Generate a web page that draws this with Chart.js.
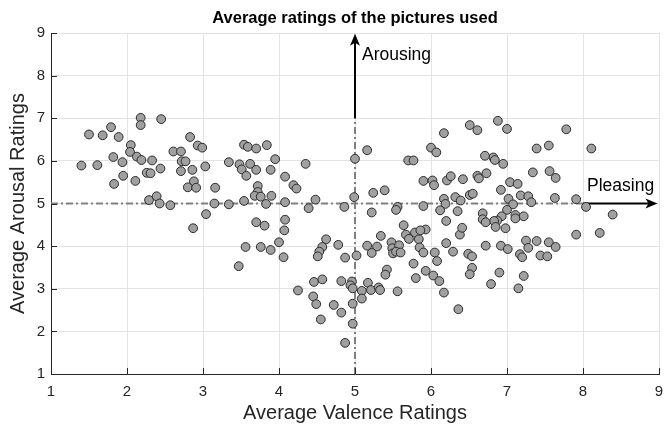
<!DOCTYPE html>
<html><head><meta charset="utf-8">
<script src="https://cdn.jsdelivr.net/npm/chart.js@4.4.0/dist/chart.umd.min.js"></script>
<style>html,body{margin:0;padding:0;background:#fff;overflow:hidden}</style>
</head><body>
<canvas id="c" width="668" height="429"></canvas>
<script>
const valence = [
1.40,1.50,1.61,1.68,1.79,1.82,1.89,1.94,1.83,1.95,2.05,2.04,2.11,2.13,2.18,2.18,2.19,2.33,2.26,2.31,2.29,2.39,2.44,2.43,2.45,2.57,2.61,2.71,2.72,2.77,2.71,2.83,2.86,2.88,2.80,2.91,2.87,2.93,
2.99,3.03,3.16,3.15,3.04,3.34,3.34,3.48,3.54,3.59,3.70,3.84,3.51,3.57,3.62,3.70,3.89,3.95,3.72,3.72,3.68,3.76,3.90,3.54,3.83,4.08,4.19,4.23,4.35,4.08,4.48,4.39,4.86,4.08,4.07,3.70,3.81,3.56,3.76,3.89,4.00,4.06,4.62,4.57,4.53,4.51,4.78,4.87,
3.47,5.02,4.25,4.46,4.57,4.45,4.49,4.55,4.72,4.82,4.96,4.94,4.97,4.82,4.97,4.97,4.87,
5.34,5.16,5.29,5.22,5.48,5.49,5.58,5.50,5.54,5.60,5.67,5.71,5.79,5.84,5.85,5.90,5.93,5.86,5.77,5.42,5.40,5.80,5.93,6.03,6.11,6.05,6.08,6.17,6.20,6.29,6.38,6.36,6.49,6.54,6.54,6.51,6.72,6.79,6.90,6.92,7.01,5.09,5.09,5.17,5.21,5.31,5.33,5.56,
7.25,7.28,7.39,7.17,7.20,7.44,7.53,7.55,7.64,7.22,7.15,7.91,8.22,
6.88,7.00,7.78,7.39,7.55,8.11,6.82,6.84,6.95,7.34,7.56,7.64,7.04,7.14,6.92,7.18,7.28,7.32,7.02,7.08,7.00,7.11,7.22,7.11,6.93,6.87,6.83,6.85,6.98,7.63,7.91,8.04,8.39,
5.00,5.16,4.99,5.24,5.39,5.22,5.56,5.54,5.64,5.70,5.77,5.90,5.90,6.00,6.07,6.17,6.02,6.04,6.21,6.26,6.42,6.51,6.61,6.71,6.61,6.63,6.73,6.17,6.19,6.32,6.39,6.51,6.55,6.12,6.35,6.20,6.41,6.68,6.68,6.72
];
const arousal = [
5.89,6.62,5.90,6.60,6.79,6.09,6.56,5.97,5.46,5.65,6.37,6.21,5.53,6.10,7.01,6.84,6.02,6.01,5.72,5.71,5.08,5.17,5.82,5.00,6.98,4.96,6.22,6.22,5.99,5.99,5.76,6.56,5.79,5.52,5.38,5.37,4.42,6.36,
6.31,5.87,5.37,5.00,4.75,4.98,5.97,5.92,6.38,6.33,6.29,6.37,5.80,5.65,5.93,5.79,5.79,6.04,5.41,5.27,5.18,5.16,5.18,5.06,4.99,5.63,5.43,5.35,5.93,5.03,5.09,4.89,4.92,4.62,4.37,4.56,4.48,3.98,3.98,3.91,4.09,3.74,4.16,3.98,3.87,3.76,4.03,3.73,
3.53,3.78,2.96,3.16,3.22,2.82,2.64,2.28,2.62,3.18,3.17,3.08,3.01,2.44,2.65,2.18,1.73,
4.24,4.01,3.99,3.84,4.09,3.95,4.02,3.83,3.87,3.85,4.27,4.17,4.32,4.16,3.97,3.85,4.39,4.37,3.59,3.45,3.33,3.25,3.42,3.31,3.18,3.85,3.65,2.91,4.07,3.87,4.27,2.52,3.82,3.76,3.49,3.34,4.01,3.11,3.38,4.01,3.93,2.95,2.77,3.14,2.97,3.03,2.97,2.94,
4.13,3.96,4.12,3.81,3.74,3.78,3.76,4.09,3.98,3.30,3.01,4.27,4.31,
6.94,6.75,6.74,6.29,6.36,6.29,6.08,6.02,5.93,5.73,5.76,5.60,5.50,5.46,5.32,5.19,5.17,5.03,5.11,4.98,4.85,4.73,4.70,4.65,4.70,4.60,4.59,4.45,4.42,5.13,5.10,4.92,4.74,
6.05,6.25,5.15,5.25,5.31,4.79,4.92,4.85,4.49,6.01,6.01,5.53,4.94,6.31,6.20,6.65,5.54,5.43,5.54,5.64,5.57,6.84,6.72,6.12,5.65,5.59,5.71,5.11,4.99,5.15,5.07,5.20,5.23,4.84,4.82,4.59,4.43,4.77,4.63,4.56
];
const xTicks = [1,2,3,4,5,6,7,8,9];
const yTicks = [1,2,3,4,5,6,7,8,9];
const titleText = 'Average ratings of the pictures used';
const xLabel = 'Average Valence Ratings';
const yLabel = 'Average Arousal Ratings';
const midValue = 5;          // neutral rating
const hArrowStart = 8, hArrowEnd = 8.98;   // "Pleasing" arrow (valence)
const vArrowStart = 7, vArrowEnd = 8.98;   // "Arousing" arrow (arousal)
const labelPleasing = 'Pleasing';
const labelArousing = 'Arousing';

const FONT = "'Liberation Sans', Arial, Helvetica, sans-serif";
const points = valence.map((v, i) => ({x: v, y: arousal[i]}));

function arrowHead(ctx, x, y, dir) {
  const L = 12, W = 5, notch = 3;
  ctx.beginPath();
  if (dir === 'right') {
    ctx.moveTo(x, y);
    ctx.lineTo(x - L, y - W);
    ctx.lineTo(x - L + notch, y);
    ctx.lineTo(x - L, y + W);
  } else {
    ctx.moveTo(x, y);
    ctx.lineTo(x - W, y + L);
    ctx.lineTo(x, y + L - notch);
    ctx.lineTo(x + W, y + L);
  }
  ctx.closePath();
  ctx.fill();
}

const overlay = {
  id: 'overlay',
  beforeDatasetsDraw(chart) {
    const {ctx, scales: {x, y}} = chart;
    ctx.save();
    ctx.strokeStyle = '#808080';
    ctx.lineWidth = 2;
    ctx.setLineDash([7, 3, 2, 3]);
    ctx.beginPath();
    ctx.moveTo(x.getPixelForValue(1), y.getPixelForValue(midValue));
    ctx.lineTo(x.getPixelForValue(hArrowStart), y.getPixelForValue(midValue));
    ctx.moveTo(x.getPixelForValue(midValue), y.getPixelForValue(1));
    ctx.lineTo(x.getPixelForValue(midValue), y.getPixelForValue(vArrowStart));
    ctx.stroke();
    ctx.setLineDash([]);
    ctx.strokeStyle = '#000';
    ctx.fillStyle = '#000';
    ctx.lineWidth = 2;
    const hy = y.getPixelForValue(midValue);
    const hx1 = x.getPixelForValue(hArrowStart), hx2 = x.getPixelForValue(hArrowEnd);
    ctx.beginPath(); ctx.moveTo(hx1, hy); ctx.lineTo(hx2 - 6, hy); ctx.stroke();
    arrowHead(ctx, hx2, hy, 'right');
    const vx = x.getPixelForValue(midValue);
    const vy1 = y.getPixelForValue(vArrowStart), vy2 = y.getPixelForValue(vArrowEnd);
    ctx.beginPath(); ctx.moveTo(vx, vy1); ctx.lineTo(vx, vy2 + 6); ctx.stroke();
    arrowHead(ctx, vx, vy2, 'up');
    ctx.restore();
  },
  afterDraw(chart) {
    const {ctx, chartArea: ca, scales: {x, y}} = chart;
    ctx.save();
    ctx.strokeStyle = '#262626';
    ctx.lineWidth = 1;
    ctx.beginPath();
    xTicks.forEach(v => {
      const px = Math.round(x.getPixelForValue(v)) + 0.5;
      ctx.moveTo(px, ca.bottom); ctx.lineTo(px, ca.bottom - 6);
    });
    yTicks.forEach(v => {
      const py = Math.round(y.getPixelForValue(v)) + 0.5;
      ctx.moveTo(ca.left, py); ctx.lineTo(ca.left + 6, py);
    });
    ctx.stroke();
    ctx.fillStyle = '#000';
    ctx.font = 'bold 16.5px ' + FONT;
    ctx.textAlign = 'center';
    ctx.textBaseline = 'middle';
    ctx.fillText(titleText, (ca.left + ca.right) / 2, 18);
    ctx.font = '17.5px ' + FONT;
    ctx.textAlign = 'left';
    ctx.fillText(labelArousing, x.getPixelForValue(midValue) + 7, 55);
    ctx.fillText(labelPleasing, x.getPixelForValue(hArrowStart) + 4, y.getPixelForValue(midValue) - 17);
    ctx.restore();
  }
};

new Chart(document.getElementById('c'), {
  type: 'scatter',
  data: {
    datasets: [{
      data: points,
      pointRadius: 4.4,
      pointHoverRadius: 4.4,
      pointBackgroundColor: '#a0a0a0',
      pointBorderColor: '#2b2b2b',
      pointBorderWidth: 1
    }]
  },
  options: {
    responsive: false,
    animation: false,
    devicePixelRatio: 1,
    layout: {padding: {top: 33, right: 9, left: 0, bottom: 0}},
    plugins: {legend: {display: false}, tooltip: {enabled: false}, title: {display: false}},
    scales: {
      x: {
        type: 'linear', min: 1, max: 9,
        afterBuildTicks: s => { s.ticks = xTicks.map(v => ({value: v})); },
        afterFit: s => { s.height = 55; s.paddingLeft = 0; s.paddingRight = 0; },
        grid: {color: '#e3e3e3', drawTicks: false},
        border: {color: '#262626', width: 1},
        ticks: {color: '#262626', padding: 9, font: {size: 15, family: FONT}, maxRotation: 0},
        title: {display: true, text: xLabel, color: '#262626', font: {size: 20, family: FONT}, padding: {top: 0, bottom: 4}}
      },
      y: {
        type: 'linear', min: 1, max: 9,
        afterBuildTicks: s => { s.ticks = yTicks.map(v => ({value: v})); },
        afterFit: s => { s.width = 51; s.paddingTop = 0; s.paddingBottom = 0; },
        grid: {color: '#e3e3e3', drawTicks: false},
        border: {color: '#262626', width: 1},
        ticks: {color: '#262626', padding: 6, font: {size: 15, family: FONT}},
        title: {display: true, text: yLabel, color: '#262626', font: {size: 20, family: FONT}, padding: {top: 6, bottom: 0}}
      }
    }
  },
  plugins: [overlay]
});
</script>
</body></html>
